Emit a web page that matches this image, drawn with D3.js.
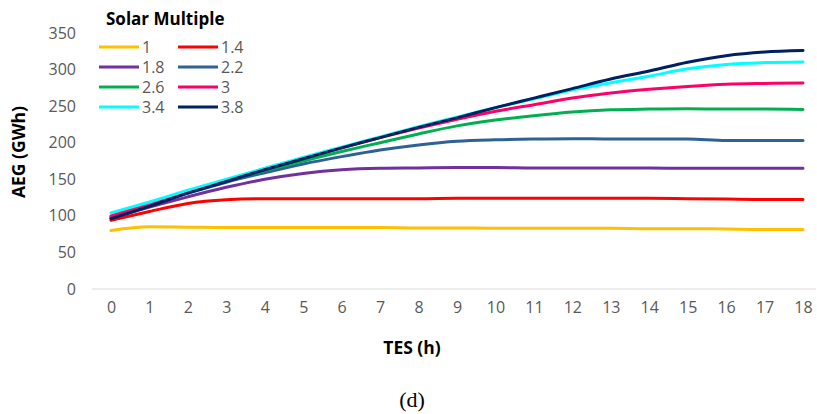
<!DOCTYPE html>
<html><head><meta charset="utf-8">
<script src="https://cdn.jsdelivr.net/npm/d3@7"></script>
<style>body{margin:0;background:#fff}svg{display:block}</style>
</head><body><svg id="c" width="817" height="414"></svg>
<script>
const tesHours = [0,1,2,3,4,5,6,7,8,9,10,11,12,13,14,15,16,17,18];
const yTicks = [0,50,100,150,200,250,300,350];
const seriesNames = ["1","1.4","1.8","2.2","2.6","3","3.4","3.8"];
const seriesColors = ["#FFC000","#FF0000","#7030A0","#2E6195","#00B050","#FF0066","#00FFFF","#002060"];
const sm1  = [80,85,84.5,84,84,84,84,84,83.5,83.5,83,83,83,83,82.5,82.5,82,81.5,81.5];
const sm14 = [94,106,117,122,123.5,123.5,123.5,123.5,123.5,124,124,124,124,124,124,123.5,123,122.5,122.5];
const sm18 = [97,112,126,139,150,158,163,165,165.5,166,166,165.5,165.5,165.5,165.5,165,165,165,165];
const sm22 = [98,115,131,146,159,171,181,190,197,202,204,205,205.5,205,205,205,203,203,203];
const sm26 = [99,116,132,148,162,175,188,200,212,223,231,237,242,245,246,246.5,246,246,245.5];
const sm3  = [100,117,134,149,164,179,193,207,220,232,243,252,261,268,273,277,280,281,281.5];
const sm34 = [104,119,135,150,165,180,194,208,222,235,248,260,272,282,291,301,307,309.5,310.5];
const sm38 = [96,113,131,147,163,178,193,207,221,234,248,261,274,287,298,310,319,324,326];
const seriesValues = [sm1,sm14,sm18,sm22,sm26,sm3,sm34,sm38];

const svg = d3.select("#c");
const font = "'Open Sans', sans-serif";
const x = d3.scaleLinear().domain([0,18]).range([111,803]);
const y = d3.scaleLinear().domain([0,350]).range([289,33]);

// baseline
svg.append("line").attr("x1",92).attr("x2",816).attr("y1",y(0)).attr("y2",y(0))
  .attr("stroke","#D9D9D9").attr("stroke-width",1);

// y axis labels
const yAxis = d3.axisLeft(y).tickValues(yTicks).tickSize(0).tickPadding(0);
const yg = svg.append("g").attr("transform","translate(76,0)").call(yAxis);
yg.select(".domain").remove();
yg.selectAll("text").attr("font-family",font).attr("font-size",16).attr("fill","#595959");

// x axis labels
const xAxis = d3.axisBottom(x).tickValues(tesHours).tickSize(0).tickPadding(0).tickFormat(d3.format("d"));
const xg = svg.append("g").attr("transform","translate(0,302)").call(xAxis);
xg.select(".domain").remove();
xg.selectAll("text").attr("font-family",font).attr("font-size",16).attr("fill","#595959");

// lines
const line = d3.line().x((d,i)=>x(tesHours[i])).y(d=>y(d)).curve(d3.curveMonotoneX);
seriesValues.forEach((vals,k)=>{
  svg.append("path").attr("d",line(vals)).attr("fill","none")
    .attr("stroke",seriesColors[k]).attr("stroke-width",3).attr("stroke-linejoin","round").attr("stroke-linecap","round");
});

// axis titles
svg.append("text").attr("x",412).attr("y",354).attr("text-anchor","middle")
  .attr("font-family",font).attr("font-weight","bold").attr("font-size",17.5).attr("fill","#000").text("TES (h)");
svg.append("text").attr("transform","translate(25,152) rotate(-90)").attr("text-anchor","middle")
  .attr("font-family",font).attr("font-weight","bold").attr("font-size",17.5).attr("fill","#000").text("AEG (GWh)");
svg.append("text").attr("x",412).attr("y",407).attr("text-anchor","middle")
  .attr("font-family","'Liberation Serif', 'Times New Roman', serif").attr("font-size",22).attr("fill","#000").text("(d)");

// legend
svg.append("text").attr("x",106).attr("y",25).attr("font-family",font).attr("font-weight","bold")
  .attr("font-size",17).attr("fill","#000").text("Solar Multiple");
seriesNames.forEach((n,k)=>{
  const col = k%2, row = Math.floor(k/2);
  const lx = col===0 ? 99 : 178;
  const ly = 47 + row*20;
  svg.append("line").attr("x1",lx).attr("x2",lx+40).attr("y1",ly).attr("y2",ly)
    .attr("stroke",seriesColors[k]).attr("stroke-width",3);
  svg.append("text").attr("x",lx+43).attr("y",ly).attr("dy","0.35em").attr("font-family",font)
    .attr("font-size",16).attr("fill","#595959").text(n);
});
</script></body></html>
